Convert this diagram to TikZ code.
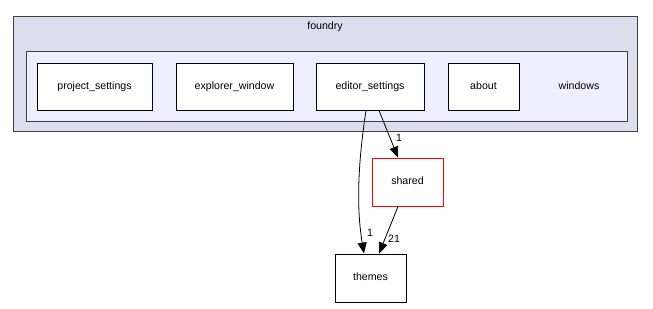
\documentclass[tikz,border=0pt]{standalone}
\usepackage{fontspec}
\setmainfont{Liberation Sans}
\usetikzlibrary{arrows.meta}
\definecolor{outerfill}{HTML}{DDDDEE}
\definecolor{innerfill}{HTML}{EEEEFF}
\definecolor{frame}{HTML}{404040}
\begin{document}
\begin{tikzpicture}[x=1pt,y=-1pt,
  every node/.style={font=\fontsize{10.6}{12}\selectfont},
  dirbox/.style={draw=black,fill=white,line width=0.9pt,minimum height=47pt,inner sep=0pt,text height=7.8pt,text depth=2.2pt},
  dep/.style={draw=black,line width=0.8pt,-{Triangle[length=11pt,width=9pt]}},
  lbl/.style={inner sep=1pt}]
\useasboundingbox (0,0) rectangle (653,308);
\draw[frame,fill=outerfill,line width=1pt] (13,16) rectangle (637,131);
\node (foundry) at (325,27) {foundry};
\draw[frame,fill=innerfill,line width=1pt] (26,51) rectangle (627,121);
\node (windows) at (579,86) {windows};
\node[dirbox,minimum width=115pt] (ps) at (94.5,86.5) {project\_settings};
\node[dirbox,minimum width=117pt] (ew) at (234.5,86.5) {explorer\_window};
\node[dirbox,minimum width=108pt] (es) at (370,86.5) {editor\_settings};
\node[dirbox,minimum width=71pt] (ab) at (483.5,86.5) {about};
\node[dirbox,draw=red,minimum width=71pt,minimum height=48pt] (sh) at (407.5,182) {shared};
\node[dirbox,minimum width=71pt,minimum height=48pt] (th) at (370.5,278) {themes};
\draw[dep] (es.south -| 366,0) .. controls (360,150) and (355,200) .. (th.north -| 364,0);
\draw[dep] (es.south -| 379,0) -- (sh.north -| 398,0);
\draw[dep] (sh.south -| 398,0) -- (th.north -| 379,0);
\node[lbl] (l1) at (399,138) {1};
\node[lbl] (l2) at (370,233) {1};
\node[lbl] (l3) at (394,239) {21};
\end{tikzpicture}
\end{document}
